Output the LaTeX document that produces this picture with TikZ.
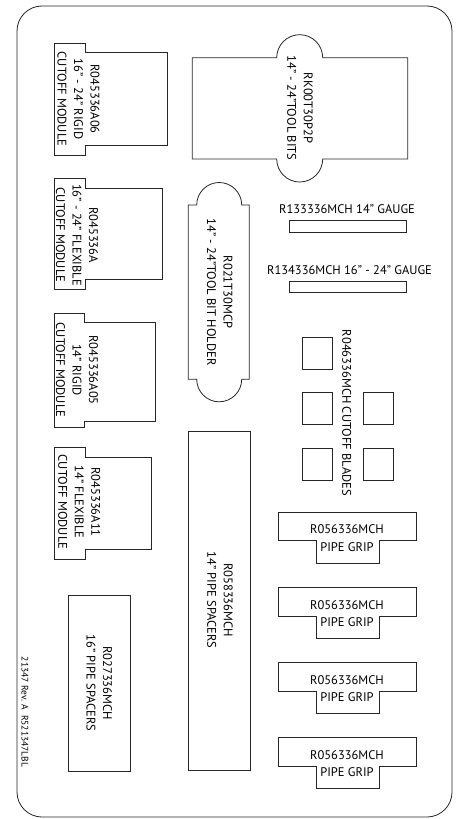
\documentclass[tikz,border=0pt]{standalone}
\usepackage{fontspec}
\newfontfamily\lblfamily{PT Sans}
\tikzset{
  part/.style={draw=black!85, line width=0.8pt},
  lbl/.style={font=\lblfamily\fontsize{12.5}{16.5}\selectfont, align=center, inner sep=0pt, text=black},
  vlbl/.style={lbl, rotate=-90},
  grip/.style={font=\lblfamily\fontsize{12.5}{17.4}\selectfont, align=center, inner sep=0pt, text=black},
  foot/.style={font=\lblfamily\fontsize{9.5}{11}\selectfont, inner sep=0pt, rotate=-90, text=black}
}
\begin{document}
\begin{tikzpicture}[x=1pt,y=-1pt]
\useasboundingbox (0,0) rectangle (455,819);
% outer plate
\draw[part, rounded corners=25pt] (17,6) rectangle (452,817);

% cutoff modules
\draw[part] (54.3,43.3) -- (85,43.3) -- (85,52.7) -- (167.7,52.7) -- (167.7,145) -- (85,145) -- (85,155) -- (54.3,155) -- cycle;
\node[vlbl] (m1) at (78.5,99) {R045336A06\\16” - 24” RIGID\\CUTOFF MODULE};

\draw[part] (54.3,178.3) -- (85,178.3) -- (85,188.3) -- (162.3,188.3) -- (162.3,279.3) -- (85,279.3) -- (85,289) -- (54.3,289) -- cycle;
\node[vlbl] (m2) at (77,235) {R045336A\\16” - 24” FLEXIBLE\\CUTOFF MODULE};

\draw[part] (54.3,313.3) -- (84,313.3) -- (84,322.7) -- (155,322.7) -- (155,421.7) -- (84,421.7) -- (84,427.7) -- (54.3,427.7) -- cycle;
\node[vlbl] (m3) at (77,370) {R045336A05\\14” RIGID\\CUTOFF MODULE};

\draw[part] (54.3,447.7) -- (85,447.7) -- (85,457.7) -- (151.7,457.7) -- (151.7,549) -- (85,549) -- (85,559) -- (54.3,559) -- cycle;
\node[vlbl] (m4) at (79.3,502) {R045336A11\\14” FLEXIBLE\\CUTOFF MODULE};

% 16" pipe spacers
\draw[part] (68.3,595) rectangle (130,771.7);
\node[vlbl] (ps16) at (99.3,683) {R027336MCH\\16” PIPE SPACERS};

% footer
\node[foot] (foot) at (25,712) {21347 Rev. A\ \ R521347LBL};

% tool bits
\draw[part] (192.3,57.7) -- (276.7,57.7) .. controls (276.7,45) and (287,34.7) .. (299.7,34.7) .. controls (312.4,34.7) and (322.7,45) .. (322.7,57.7) -- (407.7,57.7) -- (407.7,159) -- (322.7,159) .. controls (322.7,171.7) and (312.4,182) .. (299.7,182) .. controls (287,182) and (276.7,171.7) .. (276.7,159) -- (192.3,159) -- cycle;
\node[vlbl] (tb) at (300,108) {RK00T30P2P\\14” - 24”TOOL BITS};

% tool bit holder
\draw[part] (188.3,205) -- (196.7,205) .. controls (196.7,192.6) and (206.8,182.5) .. (219.2,182.5) .. controls (231.6,182.5) and (241.7,192.6) .. (241.7,205) -- (249.3,205) -- (249.3,379.3) -- (241.7,379.3) .. controls (241.7,391.7) and (231.6,401.8) .. (219.2,401.8) .. controls (206.8,401.8) and (196.7,391.7) .. (196.7,379.3) -- (188.3,379.3) -- cycle;
\node[vlbl] (tbh) at (219.7,292) {R021T30MCP\\14” - 24”TOOL BIT HOLDER};

% gauges
\node[lbl] (g1l) at (347,209) {R133336MCH 14” GAUGE};
\draw[part] (289.3,220.7) rectangle (406.7,232.3);
\node[lbl] (g2l) at (349.5,270) {R134336MCH 16” - 24” GAUGE};
\draw[part] (289.3,281) rectangle (406.7,292.3);

% cutoff blades
\draw[part] (302.7,337.7) rectangle (332.7,369.3);
\draw[part] (302.7,392.7) rectangle (332.7,424.5);
\draw[part] (363.3,392.7) rectangle (393.3,424.5);
\draw[part] (302.7,448.3) rectangle (332.7,480.7);
\draw[part] (363.3,448.3) rectangle (393.3,480.7);
\node[vlbl] (bl) at (346.7,413) {R046336MCH CUTOFF BLADES};

% 14" pipe spacers
\draw[part] (188.3,431) rectangle (250,770);
\node[vlbl] (ps14) at (220,600) {R058336MCH\\14” PIPE SPACERS};

% pipe grips
\foreach \t [count=\i] in {512.3,587.7,662.7,737.7}{
  \draw[part] (278.3,\t) -- (416,\t) -- (416,\t+28.5) -- (379,\t+28.5) -- (379,\t+51) -- (316.7,\t+51) -- (316.7,\t+28.5) -- (278.3,\t+28.5) -- cycle;
  \node[grip] (pg\i) at (347,\t+26) {R056336MCH\\PIPE GRIP};
}
\end{tikzpicture}
\end{document}
